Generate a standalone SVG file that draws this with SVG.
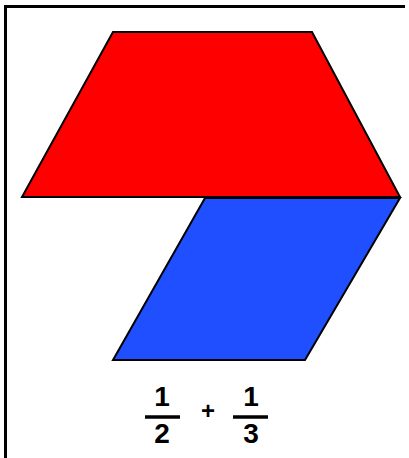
<svg xmlns="http://www.w3.org/2000/svg" width="409" height="458" viewBox="0 0 409 458">
<style>
.shape{stroke:#000;stroke-width:2;stroke-linejoin:miter}
.num{font-family:"Liberation Sans",Arial,sans-serif;font-weight:bold;font-size:28px;fill:#000;text-anchor:middle}
.bar{stroke:#000;stroke-width:3.5}
</style>
<rect width="409" height="458" fill="#fff"/>
<g id="frame">
<line x1="4" y1="6.5" x2="405" y2="6.5" stroke="#000" stroke-width="3"/>
<line x1="5.5" y1="5" x2="5.5" y2="458" stroke="#000" stroke-width="3"/>
</g>
<g id="trapezoid">
<polygon class="shape" fill="#ff0000" points="113,32 312,32 400,197 22,197"/>
</g>
<g id="parallelogram">
<polygon class="shape" fill="#1f4fff" points="205,198 400,198 305,360 113,360"/>
</g>
<g id="label">
<text class="num" x="162" y="406">1</text>
<line class="bar" x1="145" y1="417" x2="180" y2="417"/>
<text class="num" x="162" y="443">2</text>
<text class="num" x="208" y="419" style="font-size:24px">+</text>
<text class="num" x="251" y="406">1</text>
<line class="bar" x1="233" y1="417" x2="268" y2="417"/>
<text class="num" x="251" y="443">3</text>
</g>
</svg>
